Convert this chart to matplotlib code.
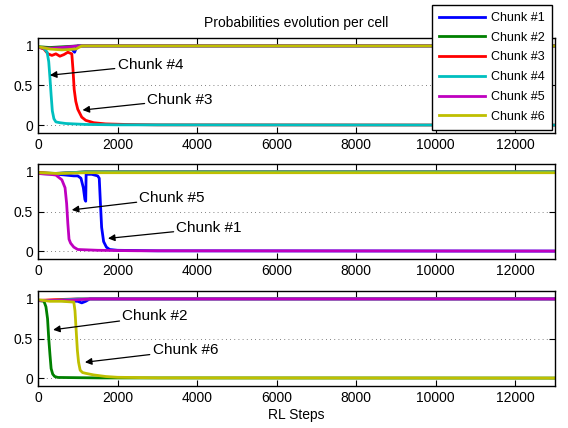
import matplotlib
matplotlib.use("Agg")
import matplotlib.pyplot as plt

plt.rcParams['font.family'] = ['Liberation Sans', 'DejaVu Sans']

labels = ["Chunk #1", "Chunk #2", "Chunk #3", "Chunk #4", "Chunk #5", "Chunk #6"]
colors = [(0, 0, 1), (0, 0.5, 0), (1, 0, 0), (0, 0.75, 0.75), (0.75, 0, 0.75), (0.75, 0.75, 0)]

# --- panel 1 (cell 1): chunk #4 and #3 drop ---
p1_steps = {
    0: [0, 200, 500, 850, 920, 960, 1000, 1500, 13000],
    1: [0, 300, 1000, 13000],
    2: [0, 150, 250, 350, 450, 550, 650, 750, 850, 880, 910, 950, 1000, 1100, 1200, 1400, 1700, 2200, 3000, 13000],
    3: [0, 150, 230, 270, 300, 330, 360, 400, 450, 550, 700, 900, 1200, 2000, 13000],
    4: [0, 300, 600, 1000, 13000],
    5: [0, 300, 600, 950, 1100, 13000],
}
p1_vals = {
    0: [0.98, 0.97, 0.97, 0.96, 0.92, 0.97, 1.0, 1.0, 1.0],
    1: [0.99, 0.98, 1.0, 1.0],
    2: [0.99, 0.96, 0.9, 0.88, 0.9, 0.87, 0.89, 0.92, 0.9, 0.7, 0.45, 0.3, 0.2, 0.1, 0.06, 0.03, 0.015, 0.008, 0.003, 0.0],
    3: [0.99, 0.97, 0.92, 0.8, 0.6, 0.38, 0.18, 0.08, 0.04, 0.03, 0.02, 0.015, 0.008, 0.003, 0.0],
    4: [0.98, 0.97, 0.98, 1.0, 1.0],
    5: [0.99, 0.96, 0.95, 0.96, 1.0, 1.0],
}

# --- panel 2 (cell 2): chunk #5 and #1 drop ---
p2_steps = {
    0: [0, 500, 700, 900, 1000, 1080, 1140, 1180, 1200, 1210, 1350, 1500, 1540, 1570, 1600, 1650, 1720, 1800, 2000, 3000, 13000],
    1: [0, 500, 1200, 13000],
    2: [0, 400, 1200, 13000],
    3: [0, 400, 1200, 13000],
    4: [0, 300, 450, 600, 680, 720, 750, 780, 820, 900, 1000, 1500, 2500, 13000],
    5: [0, 500, 1200, 13000],
}
p2_vals = {
    0: [0.98, 0.97, 0.96, 0.95, 0.95, 0.92, 0.8, 0.65, 0.63, 0.97, 0.97, 0.95, 0.92, 0.6, 0.3, 0.12, 0.05, 0.02, 0.01, 0.003, 0.0],
    1: [0.99, 0.98, 1.0, 1.0],
    2: [0.99, 0.98, 1.0, 1.0],
    3: [0.98, 0.98, 1.0, 1.0],
    4: [0.98, 0.97, 0.96, 0.9, 0.8, 0.6, 0.35, 0.15, 0.1, 0.05, 0.02, 0.01, 0.004, 0.0],
    5: [0.99, 0.98, 0.99, 0.99],
}

# --- panel 3 (cell 3): chunk #2 and #6 drop ---
p3_steps = {
    0: [0, 500, 1000, 1100, 1200, 1300, 13000],
    1: [0, 150, 200, 240, 270, 300, 330, 370, 420, 500, 1000, 1600, 13000],
    2: [0, 400, 1000, 13000],
    3: [0, 400, 1000, 13000],
    4: [0, 500, 1000, 1300, 13000],
    5: [0, 300, 600, 900, 930, 960, 990, 1020, 1060, 1120, 1200, 1400, 1700, 2000, 3000, 13000],
}
p3_vals = {
    0: [0.98, 0.98, 0.97, 0.95, 0.97, 1.0, 1.0],
    1: [0.98, 0.97, 0.9, 0.75, 0.5, 0.3, 0.12, 0.05, 0.02, 0.008, 0.005, 0.002, 0.0],
    2: [0.98, 0.99, 1.0, 1.0],
    3: [0.98, 0.98, 1.0, 1.0],
    4: [0.98, 0.98, 0.99, 1.0, 1.0],
    5: [0.99, 0.97, 0.97, 0.96, 0.85, 0.6, 0.35, 0.2, 0.1, 0.07, 0.06, 0.04, 0.02, 0.01, 0.003, 0.0],
}

# annotations: (text, text_xy, arrow_xy)
p1_notes = [("Chunk #4", (2000, 0.76), (300, 0.63)), ("Chunk #3", (2750, 0.32), (1120, 0.19))]
p2_notes = [("Chunk #5", (2550, 0.67), (850, 0.52)), ("Chunk #1", (3480, 0.29), (1760, 0.16))]
p3_notes = [("Chunk #2", (2120, 0.78), (380, 0.61)), ("Chunk #6", (2880, 0.35), (1180, 0.2))]

xticks = [0, 2000, 4000, 6000, 8000, 10000, 12000]

fig = plt.figure(figsize=(5.68, 4.28), dpi=100)
W, H = 568.0, 428.0
boxes = [(38, 38, 555, 133), (38, 164, 555, 259), (38, 291, 555, 386)]
panels = [(p1_steps, p1_vals, p1_notes), (p2_steps, p2_vals, p2_notes), (p3_steps, p3_vals, p3_notes)]

axes = []
for (x0, y0, x1, y1), (steps, vals, notes) in zip(boxes, panels):
    ax = fig.add_axes([x0 / W, 1 - y1 / H, (x1 - x0) / W, (y1 - y0) / H])
    handles = []
    for i in range(6):
        h, = ax.plot(steps[i], vals[i], color=colors[i], lw=2, label=labels[i])
        handles.append(h)
    ax.set_xlim(0, 13000)
    ax.set_ylim(-0.1, 1.1)
    ax.set_xticks(xticks)
    ax.set_yticks([0, 0.5, 1])
    ax.set_yticklabels(["0", "0.5", "1"])
    ax.yaxis.grid(True, linestyle=(0, (1, 4)), color="0.35", linewidth=0.6)
    ax.tick_params(direction="in", top=True, right=True, labelsize=10, length=4, width=0.8)
    for s in ax.spines.values():
        s.set_linewidth(1.0)
    for txt, xy_text, xy_arrow in notes:
        ax.annotate(txt, xy=xy_arrow, xytext=xy_text, fontsize=11, va="center", ha="left",
                    arrowprops=dict(arrowstyle="-|>", color="black", lw=0.9,
                                    mutation_scale=10, shrinkA=0, shrinkB=0))
    axes.append(ax)

axes[0].set_title("Probabilities evolution per cell", fontsize=10, pad=8)
axes[2].set_xlabel("RL Steps", fontsize=10, labelpad=2)

leg = fig.legend(handles, labels, loc="upper left", bbox_to_anchor=(432 / W, 1 - 5 / H),
                 fontsize=9, frameon=True, fancybox=False, edgecolor="black",
                 handlelength=3.7, borderpad=0.55, labelspacing=0.62, handletextpad=0.5,
                 borderaxespad=0)
leg.get_frame().set_linewidth(1.0)
leg.get_frame().set_alpha(1)

fig.savefig("out.png", dpi=100)
